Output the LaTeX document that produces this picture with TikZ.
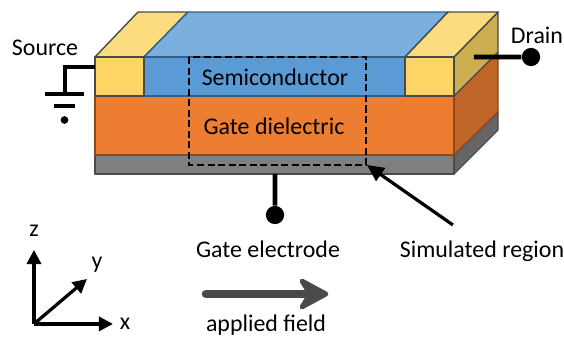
\documentclass[tikz,border=0pt]{standalone}
\usepackage{fontspec}
\setmainfont{Carlito}
\usetikzlibrary{arrows.meta}
\definecolor{contactfront}{HTML}{FFD666}
\definecolor{contacttop}{HTML}{FBDD80}
\definecolor{contactside}{HTML}{CCAE50}
\definecolor{semifront}{HTML}{5B9BD5}
\definecolor{semitop}{HTML}{7BAFDE}
\definecolor{semiedge}{HTML}{2F5F8C}
\definecolor{dielfront}{HTML}{ED7D31}
\definecolor{dielside}{HTML}{BF6528}
\definecolor{dieledge}{HTML}{8A4A20}
\definecolor{gatefront}{HTML}{7F7F7F}
\definecolor{gateside}{HTML}{666666}
\definecolor{outline}{HTML}{4A4A4A}
\tikzset{
  face/.style={line width=1pt,line join=round},
  wire/.style={line width=3.4pt,black},
  terminal/.style={circle,fill=black,inner sep=0pt,minimum size=13pt},
  axis/.style={line width=2.3pt,black,-{Triangle[length=10pt,width=10pt]}},
  label/.style={inner sep=0pt,font=\fontsize{17}{19}\selectfont},
}
\begin{document}
\begin{tikzpicture}[scale=0.025]
\useasboundingbox (0,0) rectangle (564,-337);
\draw [face,fill=gateside,draw=outline] (454,-155) -- (498,-112) -- (498,-130) -- (454,-174) -- cycle;
\draw [face,fill=dielside,draw=dieledge] (454,-96) -- (498,-52) -- (498,-112) -- (454,-155) -- cycle;
\draw [face,fill=contactside,draw=outline] (454,-57) -- (498,-12) -- (498,-52) -- (454,-96) -- cycle;
\draw [face,fill=contacttop,draw=outline] (138,-12) -- (188,-12) -- (144,-57) -- (95,-57) -- cycle;
\draw [face,fill=semitop,draw=semiedge] (188,-12) -- (448,-12) -- (405,-57) -- (144,-57) -- cycle;
\draw [face,fill=contacttop,draw=outline] (448,-12) -- (498,-12) -- (454,-57) -- (405,-57) -- cycle;
\draw [face,fill=gatefront,draw=outline] (95,-155) rectangle (454,-174);
\draw [face,fill=dielfront,draw=dieledge] (95,-96) rectangle (454,-155);
\draw [face,fill=semifront,draw=semiedge] (144,-57) rectangle (405,-96);
\draw [face,fill=contactfront,draw=outline] (95,-57) rectangle (144,-96);
\draw [face,fill=contactfront,draw=outline] (405,-57) rectangle (454,-96);
\draw [line width=1.9pt,dash pattern=on 5pt off 2.5pt,black] (189,-57) rectangle (366,-165);
\node [label] (semiconductor) at (275,-77) {Semiconductor};
\node [label] (dielectric) at (274,-126) {Gate dielectric};
\node [label] (source) at (45,-48) {Source};
\node [label] (drain) at (537,-35) {Drain};
\node [label] (gate) at (268,-249) {Gate electrode};
\node [label] (region) at (482,-251) {Simulated region};
\node [label] (field) at (266,-325) {applied field};
\node [label] (xlabel) at (125,-324) {x};
\node [label] (ylabel) at (97,-265) {y};
\node [label] (zlabel) at (34,-231) {z};
\coordinate (sourcepin) at (95,-67);
\coordinate (groundpin) at (65,-94);
\draw [wire,line join=miter] (sourcepin) -| (groundpin);
\draw [wire] (45,-94) -- (84,-94);
\draw [wire] (54,-106) -- (75,-106);
\node [terminal,minimum size=5.5pt] (grounddot) at (64.5,-120) {};
\coordinate (drainpin) at (474,-57);
\node [terminal] (draindot) at (531,-57) {};
\draw [wire] (drainpin) -- (draindot);
\coordinate (gatepin) at (275,-174);
\node [terminal] (gatedot) at (275,-215) {};
\draw [wire] (gatepin) -- (gatedot);
\coordinate (regiontail) at (453,-225);
\coordinate (regiontip) at (367,-165);
\draw [line width=2.3pt,black,-{Triangle[length=12pt,width=11pt]}] (regiontail) -- (regiontip);
\coordinate (origin) at (34,-324);
\coordinate (xtip) at (113,-324);
\coordinate (ytip) at (87,-279);
\coordinate (ztip) at (34,-250);
\draw [axis] (origin) -- (xtip);
\draw [axis] (origin) -- (ytip);
\draw [axis] (origin) -- (ztip);
\coordinate (fieldtail) at (206,-294);
\coordinate (fieldtip) at (320,-294);
\draw [line width=6pt,line cap=round,outline] (fieldtail) -- (fieldtip);
\draw [line width=3.4pt,line join=round,fill=outline,draw=outline] (302,-281) -- (326,-294) -- (302,-307) -- (310,-294) -- cycle;
\end{tikzpicture}
\end{document}
